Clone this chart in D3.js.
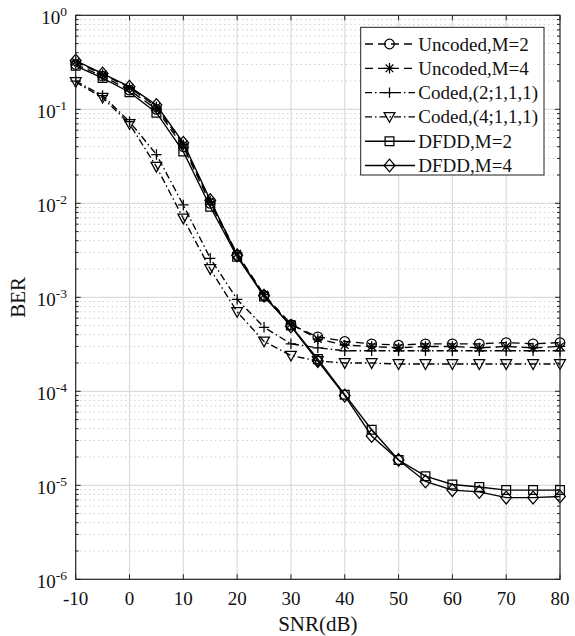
<!DOCTYPE html>
<html>
<head>
<meta charset="utf-8">
<script src="https://cdn.jsdelivr.net/npm/d3@7"></script>
<style>
  html, body { margin: 0; padding: 0; background: #fff; }
  svg { display: block; font-family: "Liberation Serif", "Times New Roman", serif; }
</style>
</head>
<body>
<svg id="chart" width="575" height="636"></svg>
<script>
// SNR sample points (dB)
const snr = [-10, -5, 0, 5, 10, 15, 20, 25, 30, 35, 40, 45, 50, 55, 60, 65, 70, 75, 80];

// BER curves
const uncodedM2 = [0.30, 0.225, 0.160, 0.100, 0.040, 0.0100, 0.0028, 0.00105, 0.00051, 0.00038, 0.00034, 0.00032, 0.00031, 0.00032, 0.00032, 0.00032, 0.00033, 0.00032, 0.00033];
const uncodedM4 = [0.32, 0.235, 0.170, 0.106, 0.042, 0.0105, 0.0029, 0.00107, 0.00052, 0.00036, 0.00031, 0.00030, 0.00029, 0.00030, 0.00030, 0.00029, 0.00030, 0.00029, 0.00030];
const coded2111 = [0.20, 0.140, 0.074, 0.033, 0.0096, 0.0026, 0.00095, 0.00048, 0.00032, 0.00029, 0.00027, 0.00027, 0.00027, 0.00027, 0.00027, 0.00027, 0.00027, 0.00027, 0.00027];
const coded4111 = [0.195, 0.133, 0.070, 0.0245, 0.0069, 0.0020, 0.00070, 0.00034, 0.00024, 0.00021, 0.00020, 0.00020, 0.000195, 0.000195, 0.000195, 0.000195, 0.000195, 0.000195, 0.000195];
const dfddM2 = [0.29, 0.215, 0.152, 0.092, 0.0355, 0.0092, 0.0027, 0.00102, 0.00050, 0.00022, 0.000092, 0.000039, 0.0000186, 0.0000125, 0.0000102, 0.0000096, 0.0000089, 0.0000089, 0.0000089];
const dfddM4 = [0.33, 0.240, 0.174, 0.111, 0.044, 0.0108, 0.0028, 0.00104, 0.00049, 0.00021, 0.000090, 0.0000335, 0.0000186, 0.0000110, 0.0000089, 0.0000085, 0.0000074, 0.0000074, 0.0000076];

const seriesNames = ["Uncoded,M=2", "Uncoded,M=4", "Coded,(2;1,1,1)", "Coded,(4;1,1,1)", "DFDD,M=2", "DFDD,M=4"];
const seriesValues = [uncodedM2, uncodedM4, coded2111, coded4111, dfddM2, dfddM4];
const seriesMarkers = ["circle", "asterisk", "plus", "triangleDown", "square", "diamond"];
const seriesDash = ["8,5", "8,5", "7,3,1.5,3", "7,3,1.5,3", null, null];

// Axis ticks
const xTicks = [-10, 0, 10, 20, 30, 40, 50, 60, 70, 80];
const yExponents = [0, -1, -2, -3, -4, -5, -6];

const svg = d3.select("#chart");
const pLeft = 75.7, pRight = 560, pTop = 15.3, pBottom = 579.3;

const x = d3.scaleLinear().domain([-10, 80]).range([pLeft, pRight]);
const y = d3.scaleLog().domain([1e-6, 1]).range([pBottom, pTop]);

const gridColor = "#dcdcdc";

// Minor horizontal grid (dotted)
const minorVals = [];
for (let e = -6; e < 0; e++) for (let m = 2; m <= 9; m++) minorVals.push(m * Math.pow(10, e));
svg.append("g").selectAll("line").data(minorVals).join("line")
  .attr("x1", pLeft).attr("x2", pRight)
  .attr("y1", d => y(d)).attr("y2", d => y(d))
  .attr("stroke", "#c4c4c4").attr("stroke-width", 1)
  .attr("stroke-dasharray", "1.2,3.3");

// Major grid
svg.append("g").selectAll("line").data(yExponents.slice(1, -1)).join("line")
  .attr("x1", pLeft).attr("x2", pRight)
  .attr("y1", d => y(Math.pow(10, d))).attr("y2", d => y(Math.pow(10, d)))
  .attr("stroke", gridColor).attr("stroke-width", 1.2);
svg.append("g").selectAll("line").data(xTicks.slice(1, -1)).join("line")
  .attr("y1", pTop).attr("y2", pBottom)
  .attr("x1", d => x(d)).attr("x2", d => x(d))
  .attr("stroke", gridColor).attr("stroke-width", 1.2);

// Ticks (inward, on all four sides)
const tickG = svg.append("g").attr("stroke", "#222").attr("stroke-width", 1);
xTicks.forEach(t => {
  tickG.append("line").attr("x1", x(t)).attr("x2", x(t)).attr("y1", pBottom).attr("y2", pBottom - 5);
  tickG.append("line").attr("x1", x(t)).attr("x2", x(t)).attr("y1", pTop).attr("y2", pTop + 5);
});
yExponents.forEach(e => {
  const yy = y(Math.pow(10, e));
  tickG.append("line").attr("x1", pLeft).attr("x2", pLeft + 5).attr("y1", yy).attr("y2", yy);
  tickG.append("line").attr("x1", pRight).attr("x2", pRight - 5).attr("y1", yy).attr("y2", yy);
});
minorVals.forEach(v => {
  const yy = y(v);
  tickG.append("line").attr("x1", pLeft).attr("x2", pLeft + 3).attr("y1", yy).attr("y2", yy);
  tickG.append("line").attr("x1", pRight).attr("x2", pRight - 3).attr("y1", yy).attr("y2", yy);
});

// Tick labels
svg.append("g").selectAll("text").data(xTicks).join("text")
  .attr("x", d => x(d)).attr("y", 605)
  .attr("text-anchor", "middle").attr("font-size", 19).attr("fill", "#111")
  .text(d => d);

const yl = svg.append("g").selectAll("text").data(yExponents).join("text")
  .attr("x", 67).attr("y", d => y(Math.pow(10, d)) + 9)
  .attr("text-anchor", "end").attr("font-size", 19).attr("fill", "#111");
yl.append("tspan").text("10");
yl.append("tspan").attr("font-size", 13.5).attr("dy", -8).text(d => d === 0 ? "0" : "-" + Math.abs(d));

// Axis titles
svg.append("text").attr("x", (pLeft + pRight) / 2).attr("y", 630.5)
  .attr("text-anchor", "middle").attr("font-size", 21).attr("fill", "#111").text("SNR(dB)");
svg.append("text").attr("transform", `translate(25,${(pTop + pBottom) / 2}) rotate(-90)`)
  .attr("text-anchor", "middle").attr("font-size", 21).attr("fill", "#111").text("BER");

// Marker shapes
function markerPath(type) {
  switch (type) {
    case "circle": return d3.symbol(d3.symbolCircle, Math.PI * 4.8 * 4.8)();
    case "square": return "M-4.4,-4.4H4.4V4.4H-4.4Z";
    case "diamond": return "M0,-6.4L5.4,0L0,6.4L-5.4,0Z";
    case "triangleDown": return "M-5.4,-4.3L5.4,-4.3L0,5.4Z";
    case "plus": return "M-5.2,0H5.2M0,-5.2V5.2";
    case "asterisk": return "M-5.2,0H5.2M0,-5.2V5.2M-3.8,-3.8L3.8,3.8M-3.8,3.8L3.8,-3.8";
  }
}

const line = d3.line().x(d => x(d[0])).y(d => y(d[1]));
const plot = svg.append("g");
seriesValues.forEach((vals, i) => {
  const pts = snr.map((s, j) => [s, vals[j]]);
  plot.append("path").attr("d", line(pts)).attr("fill", "none")
    .attr("stroke", "#000").attr("stroke-width", 1.35)
    .attr("stroke-dasharray", seriesDash[i]);
  plot.append("g").selectAll("path").data(pts).join("path")
    .attr("transform", d => `translate(${x(d[0])},${y(d[1])})`)
    .attr("d", markerPath(seriesMarkers[i]))
    .attr("fill", "none").attr("stroke", "#000").attr("stroke-width", 1.25);
});

// Axes box
svg.append("rect").attr("x", pLeft).attr("y", pTop)
  .attr("width", pRight - pLeft).attr("height", pBottom - pTop)
  .attr("fill", "none").attr("stroke", "#222").attr("stroke-width", 1.2);

// Legend
const lg = svg.append("g");
lg.append("rect").attr("x", 360.7).attr("y", 27.3).attr("width", 183.3).attr("height", 147.7)
  .attr("fill", "#fff").attr("stroke", "#222").attr("stroke-width", 1);
seriesNames.forEach((name, i) => {
  const ry = 44 + i * 24.3;
  lg.append("line").attr("x1", 365).attr("x2", 415).attr("y1", ry).attr("y2", ry)
    .attr("stroke", "#000").attr("stroke-width", 1.35)
    .attr("stroke-dasharray", seriesDash[i]);
  lg.append("path").attr("transform", `translate(389.5,${ry})`)
    .attr("d", markerPath(seriesMarkers[i]))
    .attr("fill", "none").attr("stroke", "#000").attr("stroke-width", 1.25);
  lg.append("text").attr("x", 418.3).attr("y", ry + 6.5)
    .attr("font-size", 19).attr("fill", "#111").text(name);
});
</script>
</body>
</html>
